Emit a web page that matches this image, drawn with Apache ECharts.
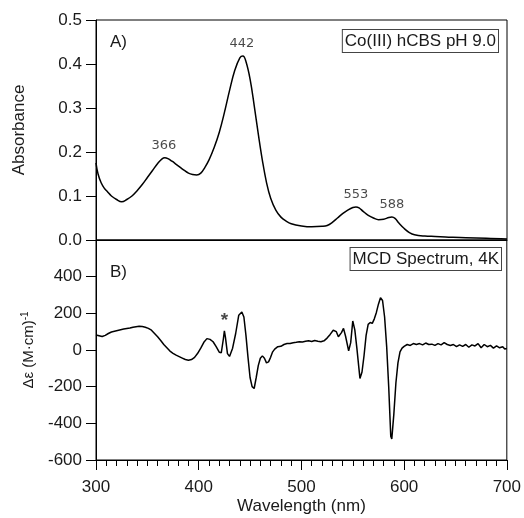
<!DOCTYPE html>
<html>
<head>
<meta charset="utf-8">
<script src="https://cdn.jsdelivr.net/npm/echarts@6/dist/echarts.min.js"></script>
<style>html,body{margin:0;padding:0;background:#fff}#c{width:524px;height:518px}</style>
</head>
<body>
<div id="c"></div>
<script>
// Absorbance spectrum (panel A)
var absWl  = [300,302,305,308,311,315,320,325,330,335,340,345,350,355,360,364,367,370,374,378,382,386,390,394,398,402,406,410,415,420,425,430,435,440,443,446,450,454,458,462,466,470,475,480,485,490,500,510,520,525,530,535,540,545,550,553,556,560,565,570,575,580,585,588,591,595,600,605,610,620,630,640,660,680,700];
var absVal = [0.175,0.150,0.130,0.118,0.110,0.100,0.092,0.087,0.092,0.100,0.112,0.126,0.142,0.158,0.174,0.184,0.187,0.185,0.179,0.172,0.165,0.158,0.152,0.149,0.148,0.152,0.165,0.182,0.210,0.245,0.290,0.340,0.385,0.414,0.418,0.405,0.365,0.305,0.240,0.180,0.130,0.095,0.068,0.052,0.043,0.037,0.032,0.030,0.031,0.033,0.040,0.050,0.060,0.068,0.074,0.075,0.073,0.065,0.056,0.050,0.046,0.047,0.051,0.052,0.049,0.038,0.026,0.017,0.012,0.009,0.008,0.007,0.005,0.004,0.002];
var peakWl  = [366,442,553,588];
var peakVal = [0.187,0.418,0.075,0.052];

// MCD spectrum (panel B)
var mcdWl  = [300,303,306,309,312,315,318,321,324,327,330,333,336,339,342,345,348,351,354,357,360,363,366,369,372,375,378,381,384,387,390,393,396,399,402,405,408,411,414,417,420,422,424,425,426,428,430,433,436,439,442,444,446,448,450,452,454,456,458,460,462,464,466,468,470,472,474,477,480,483,486,489,492,495,498,501,504,507,510,513,516,519,522,525,528,531,534,536,539,541,543,546,548,550,552,554,556,557,559,561,563,565,567,569,571,573,575,577,579,581,583,585,587,588,590,592,594,596,598,600,603,606,609,612,615,618,621,624,627,630,633,636,639,642,645,648,651,654,657,660,663,666,669,672,675,678,681,684,687,690,693,696,698,700];
var mcdVal = [82,78,74,80,90,98,102,106,110,114,117,120,124,127,130,128,124,118,108,90,72,52,30,12,-6,-18,-28,-36,-44,-52,-56,-52,-40,-18,10,42,62,58,45,18,-12,-15,60,105,70,-20,-35,10,90,190,207,180,80,-40,-150,-200,-210,-150,-85,-45,-32,-45,-70,-65,-40,-10,5,18,20,30,35,36,40,42,45,44,48,50,46,52,48,45,50,65,85,108,100,72,95,118,75,-5,40,158,110,10,-100,-155,-120,-30,80,140,150,145,170,205,250,285,270,180,20,-200,-470,-485,-350,-180,-70,-10,10,20,30,25,35,30,35,28,38,30,32,25,35,28,40,30,25,30,18,28,20,30,15,28,22,35,12,30,18,25,10,22,12,18,5,8];
var starWl = [425];
var starVal = [105];

var absTicks = [0,0.1,0.2,0.3,0.4,0.5];
var mcdRange = [-600,600];
var wlTicks = [300,400,500,600,700];

function pairs(xs, ys){ return xs.map(function(x,i){return [x, ys[i]];}); }

var FONT = 'Liberation Sans, Arial, sans-serif';
var TXT = '#1a1a1a';

var chart = echarts.init(document.getElementById('c'));
chart.setOption({
  animation: false,
  backgroundColor: '#fff',
  grid: [
    {left: 96, top: 20, width: 411, height: 220, show: true, borderColor: '#000', borderWidth: 1},
    {left: 96, top: 240, width: 411, height: 220, show: true, borderColor: '#000', borderWidth: 1}
  ],
  xAxis: [
    {gridIndex: 0, type: 'value', min: wlTicks[0], max: wlTicks[wlTicks.length-1], interval: 100,
     axisLine: {lineStyle: {color: '#000', width: 1}}, axisTick: {show: false}, axisLabel: {show: false}, splitLine: {show: false}},
    {gridIndex: 1, type: 'value', min: wlTicks[0], max: wlTicks[wlTicks.length-1], interval: 100,
     name: 'Wavelength (nm)', nameLocation: 'middle', nameGap: 38,
     nameTextStyle: {fontFamily: FONT, fontSize: 17, color: TXT},
     axisLine: {onZero: false, lineStyle: {color: '#000', width: 1}},
     axisTick: {show: true, inside: false, length: 10, lineStyle: {color: '#000'}},
     minorTick: {show: true, splitNumber: 10, length: 6, lineStyle: {color: '#000'}},
     axisLabel: {fontFamily: FONT, fontSize: 17, color: TXT, margin: 19},
     splitLine: {show: false}}
  ],
  yAxis: [
    {gridIndex: 0, type: 'value', min: absTicks[0], max: absTicks[absTicks.length-1], interval: 0.1,
     name: 'Absorbance', nameLocation: 'middle', nameGap: 68,
     nameTextStyle: {fontFamily: FONT, fontSize: 17, color: TXT},
     axisLine: {lineStyle: {color: '#000'}},
     axisTick: {show: true, inside: false, length: 10, lineStyle: {color: '#000'}},
     axisLabel: {fontFamily: FONT, fontSize: 17, color: TXT, margin: 14, formatter: function(v){return v.toFixed(1);}},
     splitLine: {show: false}},
    {gridIndex: 1, type: 'value', min: mcdRange[0], max: mcdRange[1], interval: 200,
     name: 'Δε (M·cm){sup|-1}', nameLocation: 'middle', nameGap: 58,
     nameTextStyle: {fontFamily: FONT, fontSize: 15, color: TXT,
       rich: {sup: {fontFamily: FONT, fontSize: 10, color: TXT, verticalAlign: 'top', padding: [0,0,8,0]}}},
     axisLine: {onZero: false, lineStyle: {color: '#000'}},
     axisTick: {show: true, inside: false, length: 10, lineStyle: {color: '#000'}},
     axisLabel: {fontFamily: FONT, fontSize: 17, color: TXT, margin: 14, showMaxLabel: false},
     splitLine: {show: false}}
  ],
  series: [
    {type: 'line', xAxisIndex: 0, yAxisIndex: 0, data: pairs(absWl, absVal), smooth: 0.4,
     showSymbol: false, lineStyle: {color: '#000', width: 1.5}},
    {type: 'scatter', xAxisIndex: 0, yAxisIndex: 0, data: pairs(peakWl, peakVal), symbolSize: 0,
     label: {show: true, position: 'top', distance: 6, formatter: function(p){return String(p.value[0]);},
       fontFamily: 'DejaVu Sans', fontSize: 13, color: TXT}},
    {type: 'line', xAxisIndex: 1, yAxisIndex: 1, data: pairs(mcdWl, mcdVal), smooth: false,
     showSymbol: false, lineStyle: {color: '#000', width: 1.5}},
    {type: 'scatter', xAxisIndex: 1, yAxisIndex: 1, data: pairs(starWl, starVal), symbolSize: 0,
     label: {show: true, position: 'top', distance: 0, formatter: '*', fontFamily: FONT, fontSize: 19, fontWeight: 'bold', color: TXT}}
  ],
  graphic: [
    {type: 'text', left: 110, top: 34, style: {text: 'A)', font: '17px ' + FONT, fill: TXT}},
    {type: 'text', left: 110, top: 264, style: {text: 'B)', font: '17px ' + FONT, fill: TXT}},
    {type: 'text', right: 25, top: 29, style: {text: 'Co(III) hCBS pH 9.0', font: '17px ' + FONT, fill: TXT,
      borderColor: '#444', borderWidth: 1, padding: [3, 2, 2, 2], backgroundColor: '#fff'}},
    {type: 'text', right: 22, top: 247, style: {text: 'MCD Spectrum, 4K', font: '17px ' + FONT, fill: TXT,
      borderColor: '#444', borderWidth: 1, padding: [3, 2, 2, 2], backgroundColor: '#fff'}}
  ]
});
</script>
</body>
</html>
